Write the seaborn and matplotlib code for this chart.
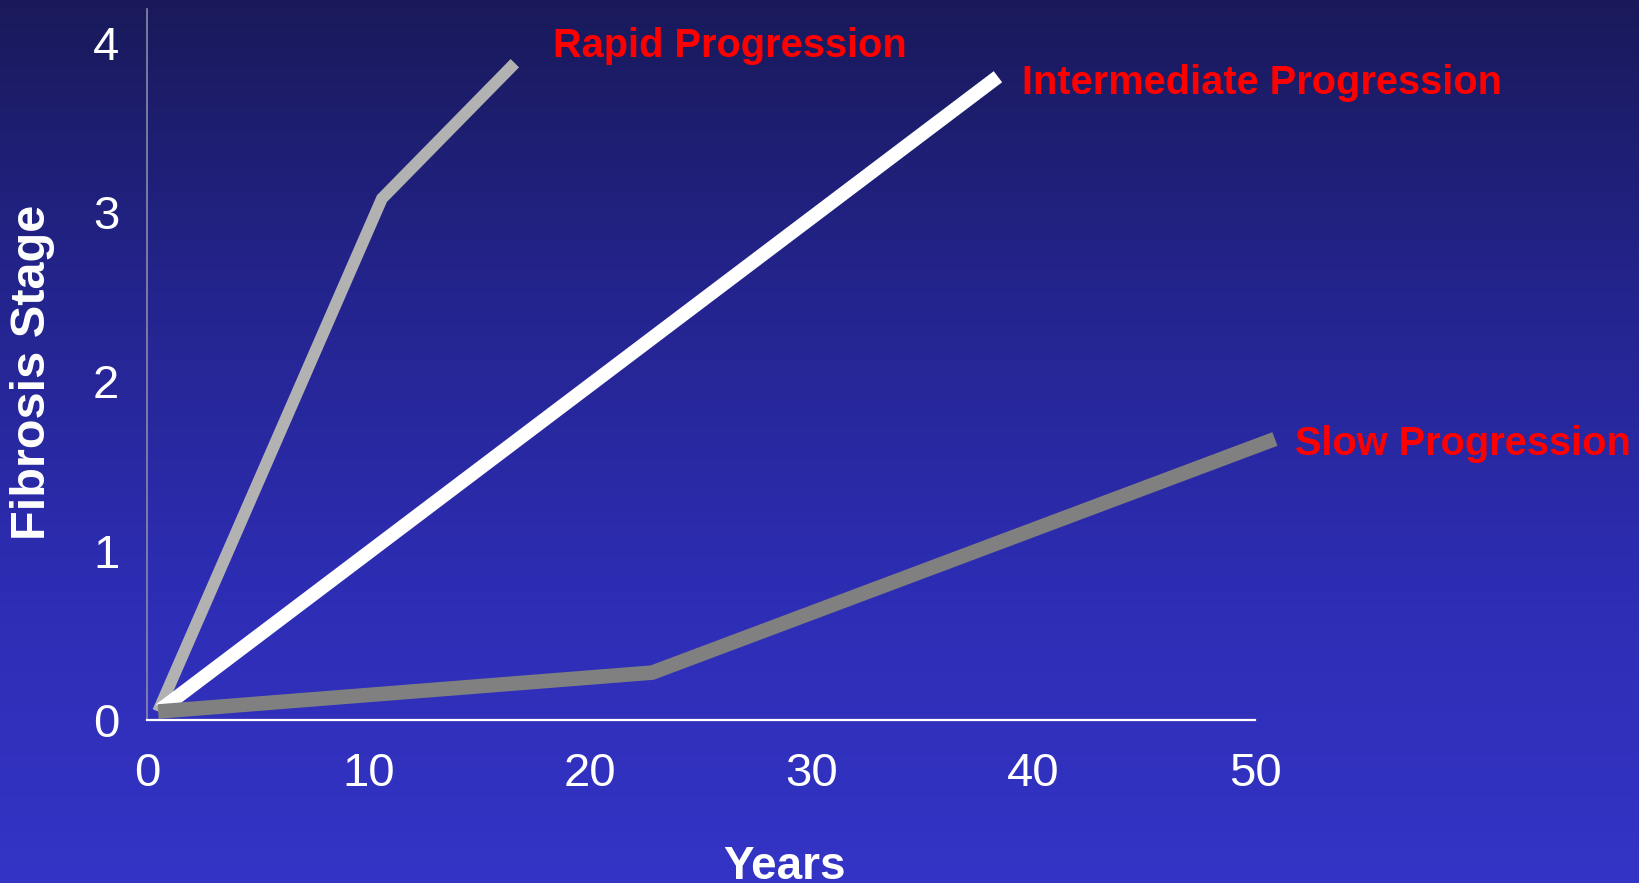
import numpy as np
import pandas as pd
import matplotlib
matplotlib.use('Agg')
import matplotlib.pyplot as plt
from matplotlib.colors import LinearSegmentedColormap
import seaborn as sns

# fibrosis progression paths (years, stage)
rapid_years = [0.5, 10.6, 16.6]
rapid_stage = [0.05, 3.08, 3.88]
inter_years = [0.6, 38.4]
inter_stage = [0.06, 3.80]
slow_years = [0.5, 22.8, 50.9]
slow_stage = [0.05, 0.28, 1.66]

series_names = ['Rapid Progression', 'Intermediate Progression', 'Slow Progression']
series_colors = ['#b2b2b2', '#ffffff', '#808080']
series_widths = [8.5, 10.0, 10.5]
x_ticks = [0, 10, 20, 30, 40, 50]
y_ticks = [0, 1, 2, 3, 4]

df = pd.concat([
    pd.DataFrame({'Years': rapid_years, 'Stage': rapid_stage, 'path': series_names[0]}),
    pd.DataFrame({'Years': inter_years, 'Stage': inter_stage, 'path': series_names[1]}),
    pd.DataFrame({'Years': slow_years, 'Stage': slow_stage, 'path': series_names[2]}),
])

sns.set_theme(style='white')
plt.rcParams['font.family'] = ['Liberation Sans', 'DejaVu Sans']

fig = plt.figure(figsize=(16.39, 8.83), dpi=100)

# gradient background, dark navy at top to bright blue at bottom
bg = fig.add_axes([0, 0, 1, 1], zorder=-1)
cmap = LinearSegmentedColormap.from_list('slide', ['#19195a', '#24248e', '#2d2db4', '#3434c6'])
bg.imshow(np.linspace(0, 1, 256).reshape(-1, 1), aspect='auto', cmap=cmap,
          extent=[0, 1, 0, 1], origin='upper')
bg.axis('off')

ax = fig.add_axes([0.0897, 0.1846, 0.6760, 0.8052])
ax.set_facecolor('none')

for name, color, lw in zip(series_names, series_colors, series_widths):
    sns.lineplot(data=df[df['path'] == name], x='Years', y='Stage', ax=ax,
                 color=color, linewidth=lw, sort=False, estimator=None,
                 solid_capstyle='butt', solid_joinstyle='miter', clip_on=False)

ax.set_xlim(0, 50)
ax.set_ylim(0, 4.2)
ax.set_xticks(x_ticks)
ax.set_yticks(y_ticks)
ax.tick_params(axis='both', length=0, labelsize=34, labelcolor='white')
ax.tick_params(axis='x', pad=23)
ax.tick_params(axis='y', pad=20)

for side in ['top', 'right']:
    ax.spines[side].set_visible(False)
ax.spines['left'].set_color('#8a8aa8')
ax.spines['left'].set_linewidth(1.2)
ax.spines['bottom'].set_color('white')
ax.spines['bottom'].set_linewidth(1.6)

ax.set_xlabel('Years', fontsize=33, fontweight='bold', color='white')
ax.xaxis.set_label_coords(0.575, -0.176)
ax.set_ylabel('Fibrosis Stage', fontsize=35, fontweight='bold', color='white')
ax.yaxis.label.set_va('center')
ax.yaxis.set_label_coords(-0.103, 0.489)

label_pos = [(18.3, 3.98), (39.5, 3.76), (51.8, 1.63)]
for name, (lx, ly) in zip(series_names, label_pos):
    ax.text(lx, ly, name, color='#ff0000', fontsize=28.6, fontweight='bold',
            ha='left', va='center', clip_on=False)

fig.savefig('out.png', dpi=100)
